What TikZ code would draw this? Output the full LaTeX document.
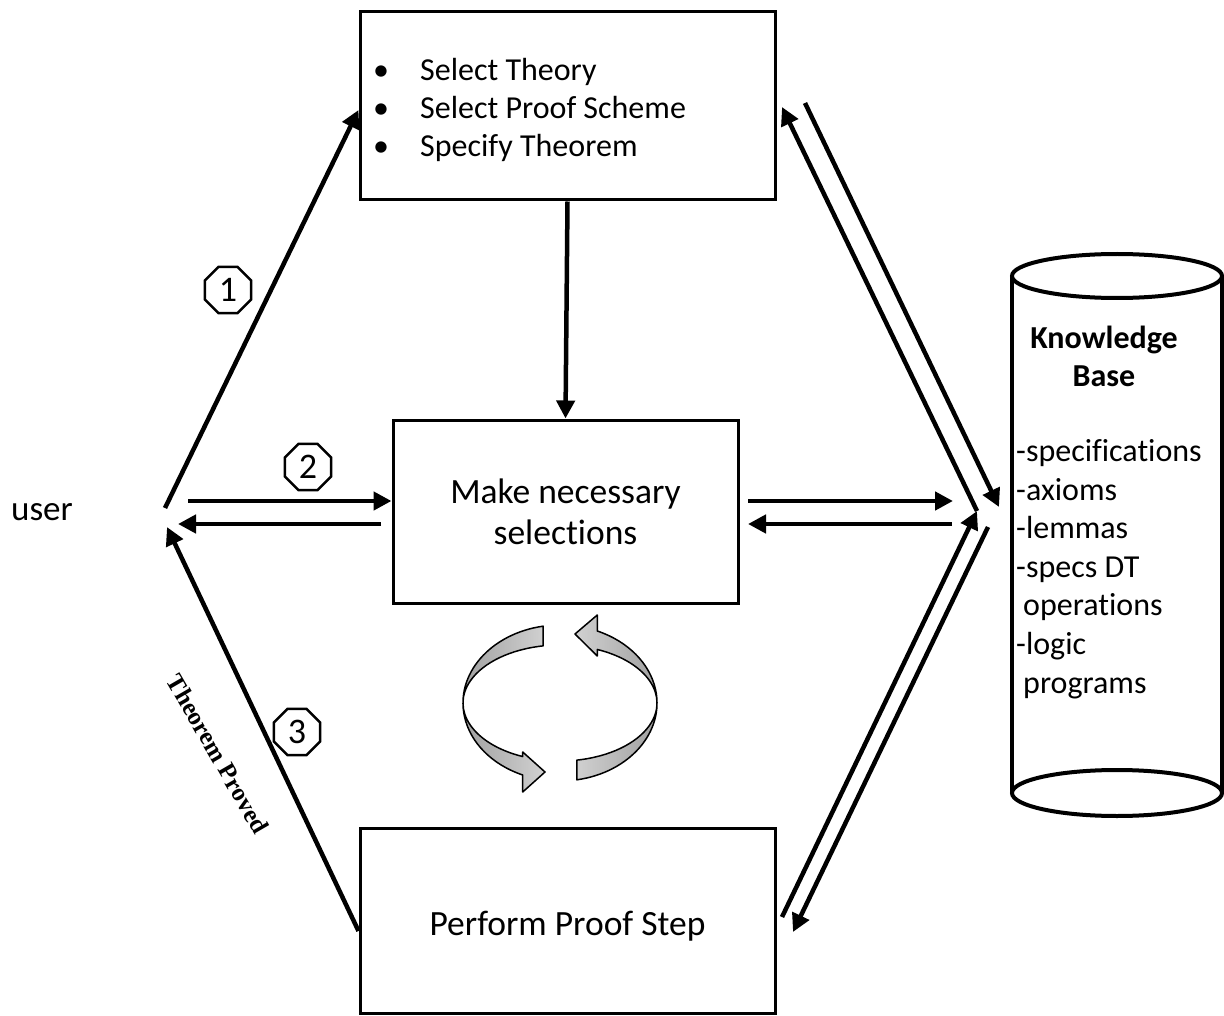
\documentclass[tikz,border=0pt]{standalone}
\usepackage{fontspec}
\setmainfont{Carlito}[Ligatures=NoCommon]
\newfontfamily\serifbold{Liberation Serif}
\usetikzlibrary{arrows.meta,shapes.geometric}

\begin{document}
\begin{tikzpicture}[x=1pt,y=-1pt,
    box/.style={draw,line width=3pt,inner sep=0pt},
    flow/.style={line width=4.5pt,-{Triangle[length=18pt,width=18pt]}},
    numtag/.style={draw,regular polygon,regular polygon sides=8,minimum size=50pt,
      inner sep=0pt,line width=2.5pt,font=\fontsize{36}{36}\selectfont},
    ribbon/.style={draw,line width=1.5pt,line join=round}]
    \useasboundingbox (0,0) rectangle (1224,1016);
    % Kasten
    \node[box,minimum width=415pt,minimum height=188pt] (theory) at (567.5,106) {};
    \node[anchor=west,inner sep=0pt,align=left,font=\fontsize{32}{38}\selectfont] (steps) at (373,110)
        {\makebox[47pt][l]{\textbullet}Select Theory\\
         \makebox[47pt][l]{\textbullet}Select Proof Scheme\\
         \makebox[47pt][l]{\textbullet}Specify Theorem};
    \node[box,minimum width=345pt,minimum height=183pt,align=center,
        font=\fontsize{35.5}{41}\selectfont] (select) at (565.5,511.5) {Make necessary\\selections};
    \node[box,minimum width=415pt,minimum height=185pt,
        font=\fontsize{35.5}{41}\selectfont] (proof) at (567.5,920.5)
        {\raisebox{-6pt}[\height][\depth]{Perform Proof Step}};
    \node[inner sep=0pt,font=\fontsize{35}{40}\selectfont] (user) at (42,512) {user};
    % Wissensbasis
    \draw[line width=4pt] (1117,276) ellipse[x radius=105,y radius=22];
    \draw[line width=4pt] (1117,793) ellipse[x radius=105,y radius=23];
    \draw[line width=4pt] (1012,276) -- (1012,793) (1222,276) -- (1222,793);
    \node[align=center,inner sep=0pt,font=\bfseries\fontsize{32}{38}\selectfont] (kbname) at (1104,356) {Knowledge\\Base};
    \node[anchor=west,inner sep=0pt,align=left,font=\fontsize{32}{38.6}\selectfont] (kbitems) at (1016,569)
        {-specifications\\-axioms\\-lemmas\\-specs DT\\\hspace*{7pt}operations\\-logic\\\hspace*{7pt}programs};
    % Endpunkte
    \coordinate (u1) at (165,508);
    \coordinate (u2) at (188,501);
    \coordinate (s2) at (381,524);
    \coordinate (u3) at (178,524);
    \coordinate (u4) at (167,527);
    \coordinate (s3) at (748,501);
    \coordinate (k1) at (953,501);
    \coordinate (k2) at (952,524);
    \coordinate (s4) at (748,524);
    \coordinate (km) at (977,511);
    \coordinate (kb1) at (999,507);
    \coordinate (kb2) at (988,527);
    \coordinate (ta) at (782,107);
    \coordinate (tb) at (805,103);
    \coordinate (pa) at (782,917);
    \coordinate (pb) at (793,932);
    % Pfeile links
    \draw[flow] (u1) -- ([yshift=-4pt]theory.west);
    \draw[flow] (u2) -- (u2 -| select.west);
    \draw[flow] (s2) -- (u3);
    \draw[flow] ([yshift=-10.5pt]proof.west) -- (u4);
    \draw[flow] (theory.south) -- (select.north);
    % Pfeile rechts
    \draw[flow] (s3) -- (k1);
    \draw[flow] (k2) -- (s4);
    \draw[flow] (km) -- (ta);
    \draw[flow] (tb) -- (kb1);
    \draw[flow] (pa) -- (km);
    \draw[flow] (kb2) -- (pb);
    % Nummern
    \node[numtag] (n1) at (228,290) {1};
    \node[numtag] (n2) at (308,467) {2};
    \node[numtag] (n3) at (297,732) {3};
    \node[rotate=-60,inner sep=0pt,font=\serifbold\bfseries\fontsize{25}{25}\selectfont] (proved) at (218,754) {Theorem Proved};
    % Kreislauf
    \draw[ribbon,left color=black!40,right color=black!18]
        (543.16,626.18) arc[start angle=260,end angle=112.6,x radius=97,y radius=78]
        -- (522.72,792) -- (545,772) -- (522.72,752) -- (522.72,756.55)
        arc[start angle=112.6,end angle=260,x radius=97,y radius=58] -- cycle;
    \draw[ribbon,right color=black!40,left color=black!18]
        (576.84,779.82) arc[start angle=80,end angle=-67.4,x radius=97,y radius=78]
        -- (597.28,615) -- (575,634) -- (597.28,656) -- (597.28,649.45)
        arc[start angle=-67.4,end angle=80,x radius=97,y radius=58] -- cycle;
\end{tikzpicture}
\end{document}
